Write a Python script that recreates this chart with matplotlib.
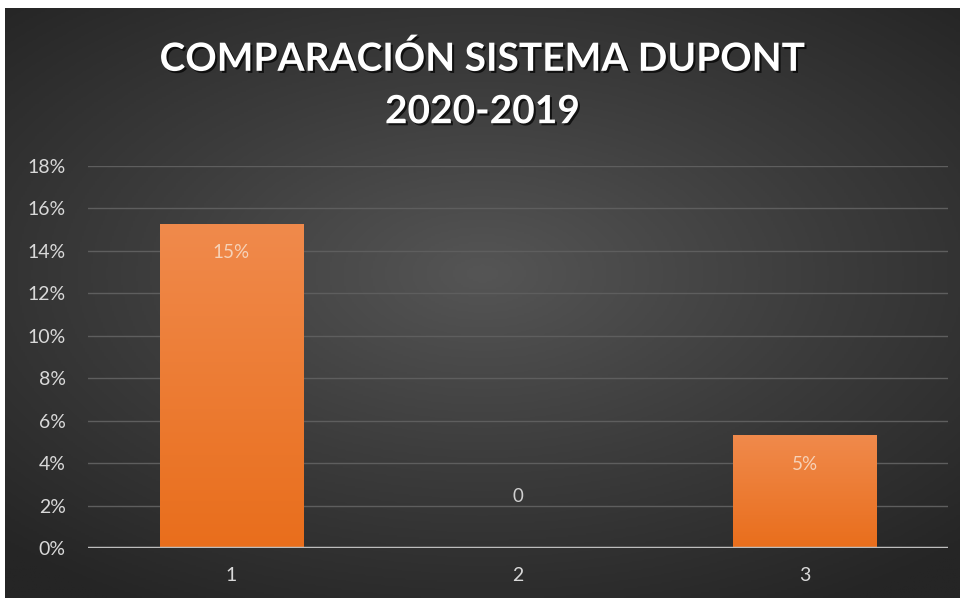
import numpy as np
import matplotlib
matplotlib.use("Agg")
import matplotlib.pyplot as plt
import matplotlib.patheffects as pe
from matplotlib.colors import LinearSegmentedColormap

# data
categories = ["1", "2", "3"]
values = [0.1528, 0.0, 0.0533]
value_labels = ["15%", "0", "5%"]
y_ticks = [0.00, 0.02, 0.04, 0.06, 0.08, 0.10, 0.12, 0.14, 0.16, 0.18]
y_tick_labels = ["0%", "2%", "4%", "6%", "8%", "10%", "12%", "14%", "16%", "18%"]
title = "COMPARACIÓN SISTEMA DUPONT\n2020-2019"

plt.rcParams["font.family"] = ["Lato", "DejaVu Sans"]

fig = plt.figure(figsize=(9.65, 6.03), dpi=100, facecolor="white")

# dark radial background
bg = fig.add_axes([5 / 965, 5 / 603, 955 / 965, 590 / 603])
bg.set_axis_off()
yy, xx = np.mgrid[-1:1:300j, -1:1:480j]
r = np.sqrt((xx / 1.0) ** 2 + ((yy + 0.1) / 0.9) ** 2)
bg_cmap = LinearSegmentedColormap.from_list("bg", ["#555555", "#3c3c3c", "#252525"])
bg.imshow(r, cmap=bg_cmap, vmin=0, vmax=1.45, aspect="auto", extent=[0, 1, 0, 1])
bg.set_xlim(0, 1)
bg.set_ylim(0, 1)

ax = fig.add_axes([88 / 965, 1 - 548 / 603, 860 / 965, 382 / 603])
ax.set_facecolor("none")
x = np.arange(len(categories))
bars = ax.bar(x, values, width=0.5, color="#ef7d2e", zorder=3)

# vertical gradient inside the bars
bar_cmap = LinearSegmentedColormap.from_list("bar", ["#e96e1c", "#f08a4c"])
grad = np.linspace(0, 1, 256).reshape(-1, 1)
for b in bars:
    if b.get_height() <= 0:
        continue
    im = ax.imshow(grad, cmap=bar_cmap, origin="lower", aspect="auto", zorder=3.5,
                   extent=[b.get_x(), b.get_x() + b.get_width(), 0, b.get_height()])
    im.set_clip_path(b)

ax.set_xlim(-0.5, len(categories) - 0.5)
ax.set_ylim(0, 0.18)
ax.set_yticks(y_ticks)
ax.set_yticklabels(y_tick_labels)
ax.set_xticks(x)
ax.set_xticklabels(categories)
ax.grid(axis="y", color="#5e5e5e", linewidth=1.0, zorder=0)
ax.axhline(0, color="#bdbdbd", linewidth=2.5, zorder=4)
for s in ax.spines.values():
    s.set_visible(False)
ax.tick_params(length=0, colors="#d9d9d9", labelsize=14)
ax.tick_params(axis="y", pad=16)
ax.tick_params(axis="x", pad=14)

for b, v, t in zip(bars, values, value_labels):
    cx = b.get_x() + b.get_width() / 2
    if v > 0:
        ax.annotate(t, (cx, v), xytext=(0, -21), textcoords="offset points",
                    ha="center", va="center", color="#f6d2b8", fontsize=13.5, zorder=5)
    else:
        ax.annotate(t, (cx, v), xytext=(0, 37), textcoords="offset points",
                    ha="center", va="center", color="#cfcfcf", fontsize=13.5, zorder=5)

fig.text(0.5, 1 - 85 / 603, title, ha="center", va="center", color="white",
         fontsize=28, fontweight="bold", linespacing=1.6,
         path_effects=[pe.withSimplePatchShadow(offset=(1.5, -1.5), shadow_rgbFace="black", alpha=0.7)])

fig.savefig("out.png", dpi=100, facecolor="white")
